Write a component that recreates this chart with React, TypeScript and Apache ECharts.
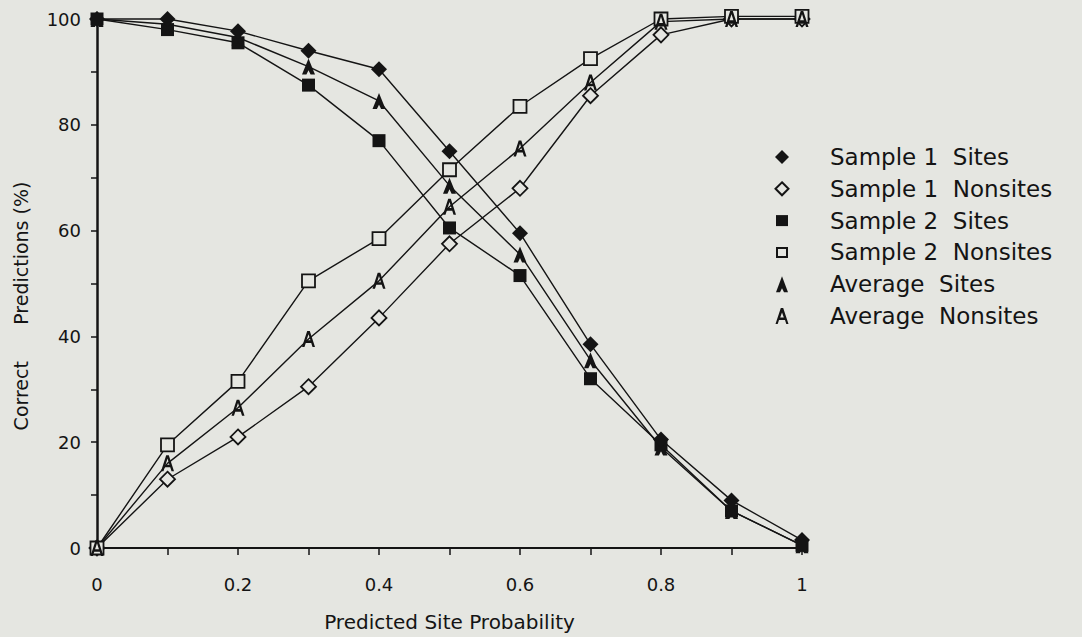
import React, { useEffect, useRef } from "react";
import * as echarts from "echarts";

const probabilities = [0, 0.1, 0.2, 0.3, 0.4, 0.5, 0.6, 0.7, 0.8, 0.9, 1];
const sample1Sites = [100, 100, 97.7, 94, 90.5, 75, 59.5, 38.5, 20.5, 9, 1.5];
const sample1Nonsites = [0, 13, 21, 30.5, 43.5, 57.5, 68, 85.5, 97, 100, 100];
const sample2Sites = [100, 98, 95.5, 87.5, 77, 60.5, 51.5, 32, 19.5, 7, 0.5];
const sample2Nonsites = [0, 19.5, 31.5, 50.5, 58.5, 71.5, 83.5, 92.5, 100, 100.5, 100.5];
const averageSites = [100, 99, 96.5, 91, 84.5, 68.5, 55.5, 35.5, 19, 7, 0.5];
const averageNonsites = [0, 16, 26.5, 39.5, 50.5, 64.5, 75.5, 88, 99.5, 100, 100];
const legendNames = [
  "Sample 1  Sites",
  "Sample 1  Nonsites",
  "Sample 2  Sites",
  "Sample 2  Nonsites",
  "Average  Sites",
  "Average  Nonsites",
];
const xTitle = "Predicted Site Probability";
const yTitle = "Correct      Predictions (%)";

const BG = "#e5e6e1";
const INK = "#141414";
const FONT = "'DejaVu Sans', 'Noto Sans', sans-serif";

const FILLED_A = "path://M5 0 L10 10 L6.6 10 L5 7.3 L3.4 10 L0 10 Z";
const LETTER_A =
  "path://M4 0 L6 0 L10 10 L8.1 10 L7.1 7.4 L2.9 7.4 L1.9 10 L0 10 Z M3.5 5.8 L6.5 5.8 L5 2 Z";

export default function App() {
  const ref = useRef<HTMLDivElement>(null);

  useEffect(() => {
    if (!ref.current) return;
    const chart = echarts.init(ref.current, null, { renderer: "svg" });

    const mk = (
      name: string,
      values: number[],
      symbol: string,
      size: number | number[],
      fill: string,
      border: number
    ) => ({
      name,
      type: "line",
      data: probabilities.map((p, i) => [p, values[i]]),
      symbol,
      symbolSize: size,
      showAllSymbol: true,
      clip: false,
      lineStyle: { color: INK, width: 1.4 },
      itemStyle: { color: fill, borderColor: INK, borderWidth: border, opacity: 1 },
      emphasis: { disabled: true },
    });

    const legendX = 782;
    const legendTop = 157;
    const gap = 31.8;
    const graphics: any[] = [];
    const markerShapes = [
      (cy: number) => ({ type: "polygon", shape: { points: [[legendX, cy - 7], [legendX + 7, cy], [legendX, cy + 7], [legendX - 7, cy]] }, style: { fill: INK } }),
      (cy: number) => ({ type: "polygon", shape: { points: [[legendX, cy - 6.5], [legendX + 6.5, cy], [legendX, cy + 6.5], [legendX - 6.5, cy]] }, style: { fill: "none", stroke: INK, lineWidth: 2 } }),
      (cy: number) => ({ type: "rect", shape: { x: legendX - 6, y: cy - 5.5, width: 12, height: 11 }, style: { fill: INK } }),
      (cy: number) => ({ type: "rect", shape: { x: legendX - 5, y: cy - 4.5, width: 10, height: 9 }, style: { fill: "none", stroke: INK, lineWidth: 2 } }),
      (cy: number) => ({ type: "polygon", shape: { points: [[legendX, cy - 8], [legendX + 6, cy + 8], [legendX + 2, cy + 8], [legendX, cy + 4], [legendX - 2, cy + 8], [legendX - 6, cy + 8]] }, style: { fill: INK } }),
      (cy: number) => ({ type: "polygon", shape: { points: [[legendX - 1.2, cy - 8], [legendX + 1.2, cy - 8], [legendX + 6.5, cy + 8], [legendX + 4.3, cy + 8], [legendX + 3, cy + 4], [legendX - 3, cy + 4], [legendX - 4.3, cy + 8], [legendX - 6.5, cy + 8]] }, style: { fill: INK } }),
    ];
    legendNames.forEach((n, i) => {
      const cy = legendTop + i * gap;
      graphics.push(markerShapes[i](cy));
      graphics.push({
        type: "text",
        x: 830,
        y: cy,
        style: {
          text: n,
          fill: INK,
          font: `23px ${FONT}`,
          verticalAlign: "middle",
          align: "left",
        },
      });
    });
    const cyA = legendTop + 5 * gap;
    graphics.push({
      type: "polygon",
      shape: { points: [[legendX - 1.8, cyA + 1.5], [legendX + 1.8, cyA + 1.5], [legendX, cyA - 3.5]] },
      style: { fill: BG },
    });
    graphics.push({
      type: "text",
      x: 21,
      y: 306,
      rotation: Math.PI / 2,
      style: {
        text: yTitle,
        fill: INK,
        font: `19px ${FONT}`,
        align: "center",
        verticalAlign: "middle",
      },
    });

    chart.setOption({
      animation: false,
      backgroundColor: BG,
      grid: { left: 97, right: 280, top: 19, bottom: 87 },
      xAxis: {
        type: "value",
        min: 0,
        max: 1,
        interval: 0.1,
        name: xTitle,
        nameLocation: "middle",
        nameGap: 64,
        nameTextStyle: { color: INK, fontSize: 20, fontFamily: FONT },
        axisLine: { lineStyle: { color: INK, width: 2 } },
        axisTick: { show: true, length: 7, lineStyle: { color: INK, width: 1.5 } },
        axisLabel: {
          color: INK,
          fontSize: 18,
          fontFamily: FONT,
          margin: 27,
          formatter: (v: number) => {
            const t = Math.round(v * 10);
            if (t % 2 !== 0) return "";
            if (t === 0) return "0";
            if (t === 10) return "1";
            return (t / 10).toFixed(1);
          },
        },
        splitLine: { show: false },
      },
      yAxis: {
        type: "value",
        min: 0,
        max: 100,
        interval: 10,
        axisLine: { lineStyle: { color: INK, width: 2.5 } },
        axisTick: { show: true, length: 6, lineStyle: { color: INK, width: 1.5 } },
        axisLabel: {
          color: INK,
          fontSize: 18,
          fontFamily: FONT,
          margin: 16,
          formatter: (v: number) => (Math.round(v) % 20 === 0 ? String(Math.round(v)) : ""),
        },
        splitLine: { show: false },
      },
      graphic: graphics,
      series: [
        mk(legendNames[1], sample1Nonsites, "diamond", 15, BG, 1.8),
        mk(legendNames[3], sample2Nonsites, "rect", 13, BG, 1.8),
        mk(legendNames[5], averageNonsites, LETTER_A, [13, 16], INK, 0),
        mk(legendNames[2], sample2Sites, "rect", 13, INK, 0),
        mk(legendNames[4], averageSites, FILLED_A, [13, 16], INK, 0),
        mk(legendNames[0], sample1Sites, "diamond", 16, INK, 0),
      ],
    });

    return () => chart.dispose();
  }, []);

  return (
    <div
      ref={ref}
      style={{ position: "fixed", left: 0, top: 0, width: 1082, height: 637 }}
    />
  );
}
